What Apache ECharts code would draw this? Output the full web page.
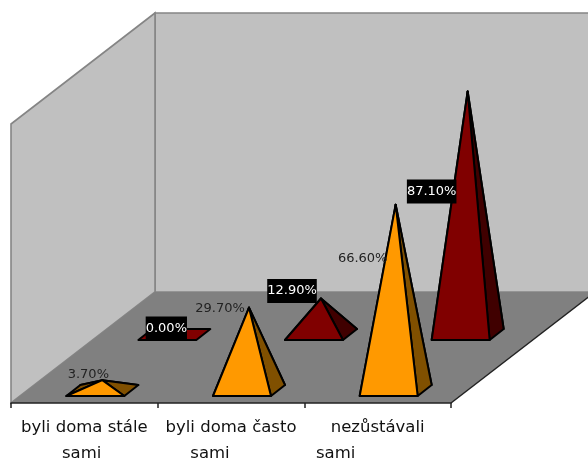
<!DOCTYPE html>
<html>
<head>
<meta charset="utf-8">
<style>html,body{margin:0;padding:0;background:#fff}#c{width:588px;height:462px}</style>
<script src="https://cdn.jsdelivr.net/npm/echarts@6/dist/echarts.min.js"></script>
</head>
<body>
<div id="c"></div>
<script>
// Data
const categories = ['byli doma stále\nsami' + '\u00a0', 'byli doma často\nsami' + '\u00a0'.repeat(8), 'nezůstávali\nsami' + '\u00a0'.repeat(16)];
const frontValues = [3.7, 29.7, 66.6];
const backValues = [0, 12.9, 87.1];
const frontLabels = ['3.70%', '29.70%', '66.60%'];
const backLabels = ['0.00%', '12.90%', '87.10%'];

// Layout of the oblique projection
const floorDepth = [144, -111];
const baseDepth = [14, -11];
const baseWidth = 58;
const frontRow = [11, -7];
const backRow = [83, -63];
const frontLabelNudge = [[-14, -6], [-29, 1], [-33, 54]];
const backLabelNudge = [[-8, -6], [-29, -7.5], [-36, 100]];

function pyramid(row, colors, labels, nudges, labelStyle) {
  return function (params, api) {
    const i = api.value(0);
    const v = api.value(1);
    const f = api.coord([i, 0]);
    const t = api.coord([i, v]);
    const h = f[1] - t[1];
    const x0 = f[0] + row[0] - baseWidth / 2;
    const y0 = f[1] + row[1];
    const FL = [x0, y0];
    const FR = [x0 + baseWidth, y0];
    const BR = [FR[0] + baseDepth[0], y0 + baseDepth[1]];
    const BL = [x0 + baseDepth[0], y0 + baseDepth[1]];
    const A = [x0 + baseWidth / 2 + baseDepth[0] / 2, y0 + baseDepth[1] / 2 - h];
    const face = (pts, fill) => ({
      type: 'polygon',
      shape: { points: pts },
      style: { fill: fill, stroke: '#000', lineWidth: 2, lineJoin: 'round' }
    });
    const n = nudges[params.dataIndex];
    const children = [];
    if (v === 0) {
      children.push(face([FL, FR, BR, BL], colors[0]));
    } else {
      children.push(face([BL, BR, A], colors[1]));
      children.push(face([FL, BL, A], colors[1]));
      children.push(face([FR, BR, A], colors[1]));
      children.push(face([FL, FR, A], colors[0]));
    }
    children.push({
      type: 'text',
      z2: 10,
      style: Object.assign({
        text: labels[params.dataIndex],
        x: A[0] + n[0],
        y: A[1] + n[1],
        align: 'center',
        verticalAlign: 'middle'
      }, labelStyle)
    });
    return { type: 'group', children: children };
  };
}

const option = {
  animation: false,
  backgroundColor: '#fff',
  grid: { left: 11, top: 124, width: 440, height: 279, containLabel: false, outerBoundsMode: 'none' },
  xAxis: {
    type: 'category',
    data: categories,
    z: 5,
    axisLine: { lineStyle: { color: '#222', width: 1.5 } },
    axisTick: { show: true, length: 5, alignWithLabel: false, lineStyle: { color: '#222', width: 1.5 } },
    axisLabel: {
      interval: 0,
      hideOverlap: false,
      margin: 12,
      color: '#111',
      fontFamily: 'DejaVu Sans',
      fontSize: 16.5,
      lineHeight: 26
    }
  },
  yAxis: { type: 'value', min: 0, max: 100, show: false, splitLine: { show: false } },
  series: [
    {
      type: 'custom',
      name: 'frame',
      z: 0,
      silent: true,
      data: [[0, 0]],
      encode: { x: 0, y: 1 },
      renderItem: function (params) {
        const c = params.coordSys;
        const l = c.x, r = c.x + c.width, b = c.y + c.height, t = c.y;
        const dx = floorDepth[0], dy = floorDepth[1];
        const wall = { fill: '#c0c0c0', stroke: '#858585', lineWidth: 1.6 };
        return {
          type: 'group',
          children: [
            { type: 'polygon', shape: { points: [[l + dx, t + dy], [r + dx, t + dy], [r + dx, b + dy], [l + dx, b + dy]] }, style: wall },
            { type: 'polygon', shape: { points: [[l, b], [l, t], [l + dx, t + dy], [l + dx, b + dy]] }, style: wall },
            { type: 'polygon', shape: { points: [[l, b], [r, b], [r + dx, b + dy], [l + dx, b + dy]] }, style: { fill: '#808080' } },
            { type: 'line', shape: { x1: r, y1: b, x2: r + dx, y2: b + dy }, style: { stroke: '#222', lineWidth: 1.5 } }
          ]
        };
      }
    },
    {
      type: 'custom',
      name: 'back',
      z: 2,
      data: backValues.map((v, i) => [i, v]),
      encode: { x: 0, y: 1 },
      renderItem: pyramid(backRow, ['#800000', '#400000'], backLabels, backLabelNudge, {
        fill: '#fff',
        font: '13px "DejaVu Sans"',
        backgroundColor: '#000',
        padding: [6, 0, 5, 0]
      })
    },
    {
      type: 'custom',
      name: 'front',
      z: 3,
      data: frontValues.map((v, i) => [i, v]),
      encode: { x: 0, y: 1 },
      renderItem: pyramid(frontRow, ['#ff9900', '#805000'], frontLabels, frontLabelNudge, {
        fill: '#222',
        font: '13px "DejaVu Sans"'
      })
    }
  ]
};
echarts.init(document.getElementById('c'), null, { renderer: 'canvas' }).setOption(option);
</script>
</body>
</html>
